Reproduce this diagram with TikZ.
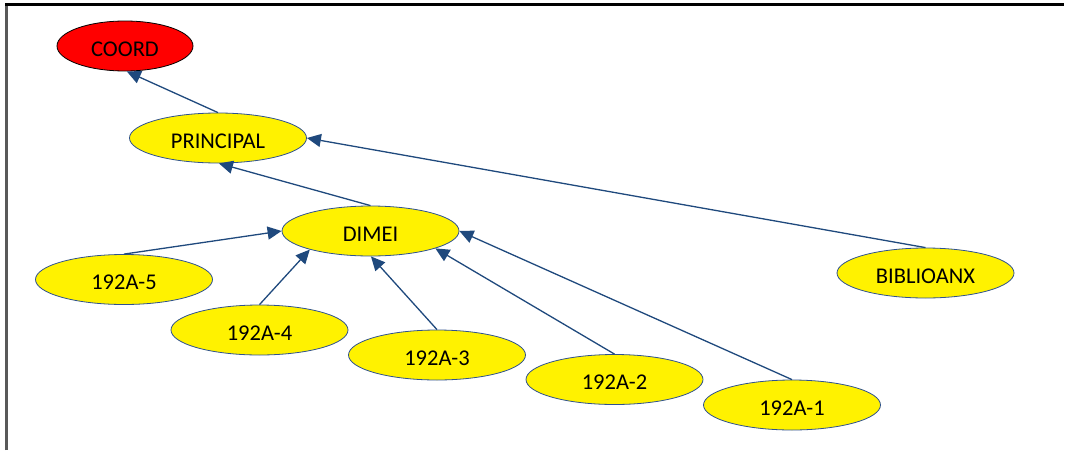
\documentclass[tikz,border=0pt]{standalone}
\usepackage{fontspec}
\setmainfont{Carlito}
\usetikzlibrary{arrows.meta,shapes.geometric}
\definecolor{edgeblue}{RGB}{31,73,125}
\definecolor{rimblue}{RGB}{47,82,143}
\tikzset{
  oval/.style={ellipse, draw=rimblue, line width=0.8pt, fill=yellow, minimum width=177pt, minimum height=50pt, inner sep=0pt, text height=20pt, text depth=0pt, font=\fontsize{22.5}{26}\selectfont, text=black},
  redoval/.style={oval, fill=red, draw=black, minimum width=136pt},
  link/.style={draw=edgeblue, line width=1.3pt, -{Triangle[length=14pt,width=13pt]}},
}
\begin{document}
\begin{tikzpicture}[x=1pt,y=-1pt]
\useasboundingbox (0,0) rectangle (1065,450);
\draw[line width=2.2pt, black!65] (6.5,450) -- (6.5,4.5);
\draw[line width=2.2pt, black] (5.4,4.5) -- (1064,4.5);

\node[redoval] (coord) at (125,46) {COORD};
\node[oval] (principal) at (218,138) {PRINCIPAL};
\node[oval] (dimei) at (370.5,231) {DIMEI};
\node[oval] (biblio) at (925.5,273) {BIBLIOANX};
\node[oval] (c5) at (124,279.5) {192A-5};
\node[oval] (c4) at (259.5,330) {192A-4};
\node[oval] (c3) at (437,355) {192A-3};
\node[oval] (c2) at (614.5,379.5) {192A-2};
\node[oval] (c1) at (792,405) {192A-1};

\draw[link] (principal.north) -- (coord.-86);
\draw[link] (dimei.north) -- (principal.-88);
\draw[link] (biblio.north) -- (principal.east);
\draw[link] (c5.north) -- (dimei.west);
\draw[link] (c4.north) -- (dimei.197);
\draw[link] (c3.north) -- (dimei.-89);
\draw[link] (c2.north) -- (dimei.345);
\draw[link] (c1.north) -- (dimei.east);
\end{tikzpicture}
\end{document}
